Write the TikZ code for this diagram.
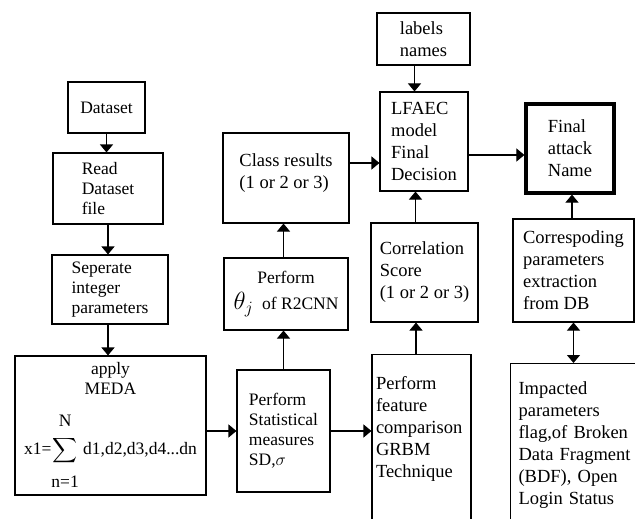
\documentclass[tikz,border=0pt]{standalone}
\usepackage{amsmath}
\usepackage{fontspec}
\setmainfont{Liberation Serif}
\usetikzlibrary{arrows.meta}

\begin{document}
\begin{tikzpicture}
[x=1pt,y=-1pt,
  boxDecorate/.style={draw,line width=1.1pt,inner sep=4pt,align=left,
    font=\fontsize{18.5}{22}\selectfont},
  leftDecorate/.style={boxDecorate,font=\fontsize{17.5}{20}\selectfont},
  lineDecorate/.style={line width=1.1pt,-{Triangle[width=13pt,length=8pt]}},
  bothDecorate/.style={line width=1.1pt,
    {Triangle[width=13pt,length=8pt]}-{Triangle[width=13pt,length=8pt]}}]
\useasboundingbox (0,0) rectangle (635,519);
\clip (0,0) rectangle (635,519);
%%
%% left column
\node (data) at (106.5,107.5) [leftDecorate,minimum width=77pt,minimum height=51pt] {Dataset};
\node (read) at (108,188.5) [leftDecorate,minimum width=110pt,minimum height=71pt]
  {Read\\Dataset\\file};
\node (sep) at (110,289.5) [leftDecorate,minimum width=116pt,minimum height=69pt]
  {Seperate\\integer\\parameters};
\node (meda) at (110.5,425.5) [leftDecorate,align=center,minimum width=191pt,minimum height=139pt]
  {apply\\MEDA\\[18pt]
   x1=$\displaystyle\sum_{\mbox{\rule{0pt}{20pt}n=1}}^{\mbox{\rule[-8pt]{0pt}{8pt}N}}$ d1,d2,d3,d4...dn};
%%
%% second column
\node (stat) at (283.5,431) [leftDecorate,minimum width=93pt,minimum height=122pt]
  {Perform\\Statistical\\measures\\SD,$\sigma$};
\node (theta) at (286,294) [leftDecorate,align=center,minimum width=124pt,minimum height=72pt]
  {Perform\\[6pt]{\fontsize{25}{25}\selectfont$\theta_j$}\ \ of R2CNN};
\node (class) at (286,178) [boxDecorate,minimum width=126pt,minimum height=90pt,text depth=14pt]
  {Class results\\(1 or 2 or 3)};
%%
%% third column
\node (labels) at (423.5,39) [boxDecorate,minimum width=93pt,minimum height=52pt] {labels\\names};
\node (lfaec) at (424,141.5) [boxDecorate,minimum width=88pt,minimum height=99pt]
  {LFAEC\\model\\Final\\Decision};
\node (corr) at (424.5,272.5) [boxDecorate,minimum width=107pt,minimum height=99pt]
  {Correlation\\Score\\(1 or 2 or 3)};
\node (grbm) at (421.5,354) [boxDecorate,anchor=north,minimum width=99pt,text width=91pt,
  text height=31pt,text depth=220pt]
  {Perform\\feature\\comparison\\GRBM\\Technique};
%%
%% right column
\node (final) at (570,148.5) [boxDecorate,line width=3.2pt,minimum width=88pt,minimum height=89pt]
  {Final\\attack\\Name};
\node (corrp) at (573.5,270.5) [boxDecorate,minimum width=121pt,minimum height=103pt]
  {Correspoding\\parameters\\extraction\\from DB};
\node (impact) at (510,363) [boxDecorate,anchor=north west,inner xsep=8pt,text width=140pt,
  text height=27pt,text depth=220pt]
  {Impacted\\parameters\\flag,of Broken\\Data Fragment\\(BDF), Open\\Login Status};
%%
%% connectors
\draw[lineDecorate] (data.south) -- (data.south |- read.north);
\draw[lineDecorate] (read.south) -- (read.south |- sep.north);
\draw[lineDecorate] ([xshift=-2pt]sep.south) -- ([xshift=-2pt]sep.south |- meda.north);
\draw[lineDecorate] (meda.east |- stat.west) -- (stat.west);
\draw[lineDecorate] (stat.east) -- (stat.east -| grbm.west);
\draw[lineDecorate] (stat.north) -- (stat.north |- theta.south);
\draw[lineDecorate] (theta.north -| stat.north) -- (stat.north |- class.south);
\draw[lineDecorate] ([yshift=15pt]class.east) -- ([yshift=15pt]class.east -| lfaec.west);
\draw[lineDecorate] ([xshift=-9pt]labels.south) -- ([xshift=-9pt]labels.south |- lfaec.north);
\draw[lineDecorate] ([xshift=-9pt]corr.north) -- ([xshift=-9pt]corr.north |- lfaec.south);
\draw[lineDecorate] ([xshift=-5.5pt]grbm.north) -- ([xshift=-5.5pt]grbm.north |- corr.south);
\draw[lineDecorate] ([yshift=-13.5pt]lfaec.east) -- ([yshift=-13.5pt]lfaec.east -| final.west);
\draw[lineDecorate] ([xshift=-1.5pt]corrp.north) -- ([xshift=-1.5pt]corrp.north |- final.south);
\draw[bothDecorate] (corrp.south) -- (corrp.south |- impact.north);
\end{tikzpicture}
\end{document}
